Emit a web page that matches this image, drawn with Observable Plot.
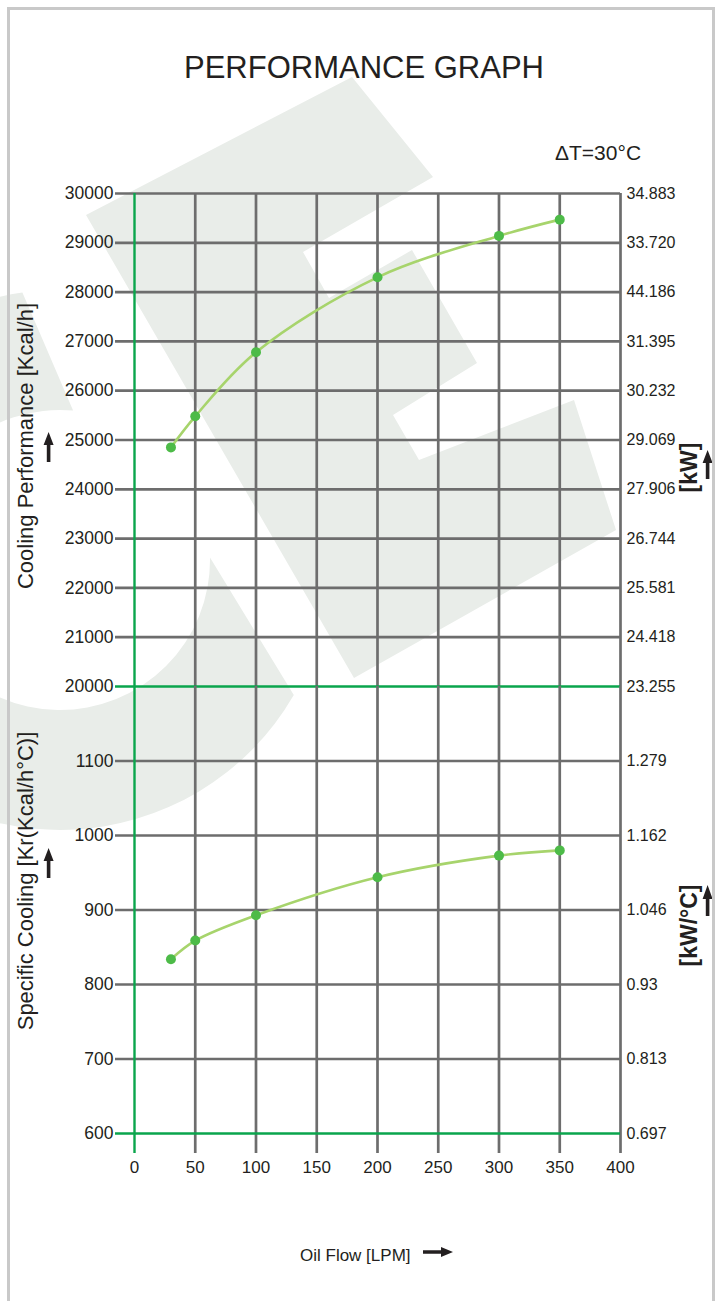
<!DOCTYPE html>
<html>
<head>
<meta charset="utf-8">
<script src="https://cdn.jsdelivr.net/npm/d3@7"></script>
<script src="https://cdn.jsdelivr.net/npm/@observablehq/plot@0.6"></script>
<style>
  html, body { margin: 0; padding: 0; background: #ffffff; }
  #root { position: relative; width: 721px; height: 1301px; overflow: hidden;
          font-family: "Liberation Sans", Arial, Helvetica, sans-serif; color: #231f20; }
  .abs { position: absolute; white-space: nowrap; }
  .rot { position: absolute; white-space: nowrap; text-align: center; transform: rotate(-90deg); transform-origin: 50% 50%; }
  #frame { position: absolute; left: 7px; top: 7px; width: 708px; height: 1320px; border: 3px solid #c9c9c9; box-sizing: border-box; }
  .plotbox { position: absolute; left: 0; }
</style>
</head>
<body>
<div id="root">
  <svg class="abs" id="wm" width="721" height="1301" style="left:0;top:0">
    <path fill="#e9ede9" d="M86,215 L352,77 L433,177 L303,252 L329,298 L412,250 L477,363 L393,415 L419,460 L574,400 L616,530 L354,678 Z"/>
    <path fill="#e9ede9" d="M22.4,292.6 A270,270 0 1 0 293.8,695 L210,557.4 A150,150 0 1 1 73.1,410.6 Z"/>
  </svg>
  <div id="topPlot" class="plotbox" style="top:173px"></div>
  <div id="bottomPlot" class="plotbox" style="top:686px"></div>

  <div class="abs" style="left:0;width:728px;top:52px;font-size:31px;line-height:31px;text-align:center;">PERFORMANCE GRAPH</div>
  <div class="abs" style="left:555px;top:142px;font-size:21px;line-height:21px;">ΔT=30°C</div>
  <div class="abs" style="left:300px;top:1247px;font-size:17px;line-height:17px;">Oil Flow [LPM]</div>

  <div class="rot" style="left:-174px;width:400px;top:435px;height:22px;font-size:22px;line-height:22px;">Cooling Performance [Kcal/h]</div>
  <div class="rot" style="left:-174px;width:400px;top:870px;height:22px;font-size:22px;line-height:22px;">Specific Cooling [Kr(Kcal/h°C)]</div>
  <div class="rot" style="left:589px;width:200px;top:455.5px;height:23px;font-size:23px;line-height:23px;font-weight:bold;">[kW]</div>
  <div class="rot" style="left:589px;width:200px;top:913.5px;height:23px;font-size:23px;line-height:23px;font-weight:bold;">[kW/°C]</div>

  <svg class="abs" width="721" height="1301" style="left:0;top:0;pointer-events:none">
    <g fill="#231f20" stroke="none">
      <path d="M46.8,444 L50.4,444 L50.4,462 L46.8,462 Z M43.6,445 L48.6,432 L53.6,445 Z"/>
      <path d="M46.8,860 L50.4,860 L50.4,878 L46.8,878 Z M43.6,861 L48.6,848 L53.6,861 Z"/>
      <path d="M705.8,462 L709.4,462 L709.4,479 L705.8,479 Z M702.6,463 L707.6,450 L712.6,463 Z"/>
      <path d="M705.8,898 L709.4,898 L709.4,916 L705.8,916 Z M702.6,899 L707.6,885 L712.6,899 Z"/>
      <path d="M423,1250.3 L442,1250.3 L442,1253.7 L423,1253.7 Z M441,1247 L453,1252 L441,1257 Z"/>
    </g>
  </svg>
  <div id="frame"></div>
</div>
<script>
// ---- data ----
const flow = [30, 50, 100, 200, 300, 350];                    // Oil Flow [LPM]
const coolingKcal = [24850, 25480, 26780, 28300, 29140, 29470]; // Cooling Performance [Kcal/h]
const specificKr = [834, 859, 893, 944, 973, 980];              // Specific Cooling [Kcal/h°C]

const xTicks = [0, 50, 100, 150, 200, 250, 300, 350, 400];
const topTicks = [30000, 29000, 28000, 27000, 26000, 25000, 24000, 23000, 22000, 21000, 20000];
const topKwLabels = ["34.883", "33.720", "44.186", "31.395", "30.232", "29.069", "27.906", "26.744", "25.581", "24.418", "23.255"];
const bottomTicks = [1100, 1000, 900, 800, 700, 600];
const bottomKwLabels = ["1.279", "1.162", "1.046", "0.93", "0.813", "0.697"];

// ---- styles ----
const GRAY = "#6d6d6d";
const GREEN = "#0aa54c";
const LINE = "#a7d46c";
const DOT = "#4dbb48";
const FONT = '"Liberation Sans", Arial, Helvetica, sans-serif';
const TXT = "#231f20";

const topData = flow.map((x, i) => ({x, y: coolingKcal[i]}));
const bottomData = flow.map((x, i) => ({x, y: specificKr[i]}));

const common = {
  width: 721,
  marginLeft: 134,
  marginRight: 101,
  style: {background: "transparent", overflow: "visible", fontFamily: FONT, color: TXT}
};

const topPlot = Plot.plot({
  ...common,
  height: 513,
  marginTop: 20,
  marginBottom: 0,
  x: {domain: [0, 400], axis: null},
  y: {domain: [20000, 30000], axis: null},
  marks: [
    Plot.ruleX(xTicks.filter(d => d !== 0), {stroke: GRAY, strokeWidth: 2.7}),
    Plot.ruleY(topTicks.filter(d => d !== 20000), {stroke: GRAY, strokeWidth: 2.7, insetLeft: -19}),
    Plot.ruleY([20000], {stroke: GREEN, strokeWidth: 2.4, insetLeft: -19}),
    Plot.ruleX([0], {stroke: GREEN, strokeWidth: 2.4}),
    Plot.axisY({ticks: topTicks, anchor: "left", tickSize: 0, tickPadding: 21, fontSize: 17.5, label: null, tickFormat: d => String(d)}),
    Plot.axisY({ticks: topTicks, anchor: "right", tickSize: 0, tickPadding: 6, fontSize: 16, label: null,
      tickFormat: d => topKwLabels[topTicks.indexOf(d)]}),
    Plot.line(topData, {x: "x", y: "y", curve: "catmull-rom", stroke: LINE, strokeWidth: 2.6}),
    Plot.dot(topData, {x: "x", y: "y", r: 5, fill: DOT, stroke: "none"})
  ]
});

const bottomPlot = Plot.plot({
  ...common,
  height: 507,
  marginTop: 0,
  marginBottom: 60,
  x: {domain: [0, 400], axis: null},
  y: {domain: [600, 1200], axis: null},
  marks: [
    Plot.ruleX(xTicks.filter(d => d !== 0), {stroke: GRAY, strokeWidth: 2.7, insetBottom: -20}),
    Plot.ruleY(bottomTicks.filter(d => d !== 600), {stroke: GRAY, strokeWidth: 2.7, insetLeft: -19}),
    Plot.ruleY([600], {stroke: GREEN, strokeWidth: 2.4, insetLeft: -19}),
    Plot.ruleX([0], {stroke: GREEN, strokeWidth: 2.4, insetBottom: -20}),
    Plot.axisY({ticks: bottomTicks, anchor: "left", tickSize: 0, tickPadding: 21, fontSize: 17.5, label: null, tickFormat: d => String(d)}),
    Plot.axisY({ticks: bottomTicks, anchor: "right", tickSize: 0, tickPadding: 6, fontSize: 16, label: null,
      tickFormat: d => bottomKwLabels[bottomTicks.indexOf(d)]}),
    Plot.axisX({ticks: xTicks, anchor: "bottom", tickSize: 0, tickPadding: 27, fontSize: 17, label: null, tickFormat: d => String(d)}),
    Plot.line(bottomData, {x: "x", y: "y", curve: "catmull-rom", stroke: LINE, strokeWidth: 2.6}),
    Plot.dot(bottomData, {x: "x", y: "y", r: 5, fill: DOT, stroke: "none"})
  ]
});

document.getElementById("topPlot").appendChild(topPlot);
document.getElementById("bottomPlot").appendChild(bottomPlot);
</script>
</body>
</html>
